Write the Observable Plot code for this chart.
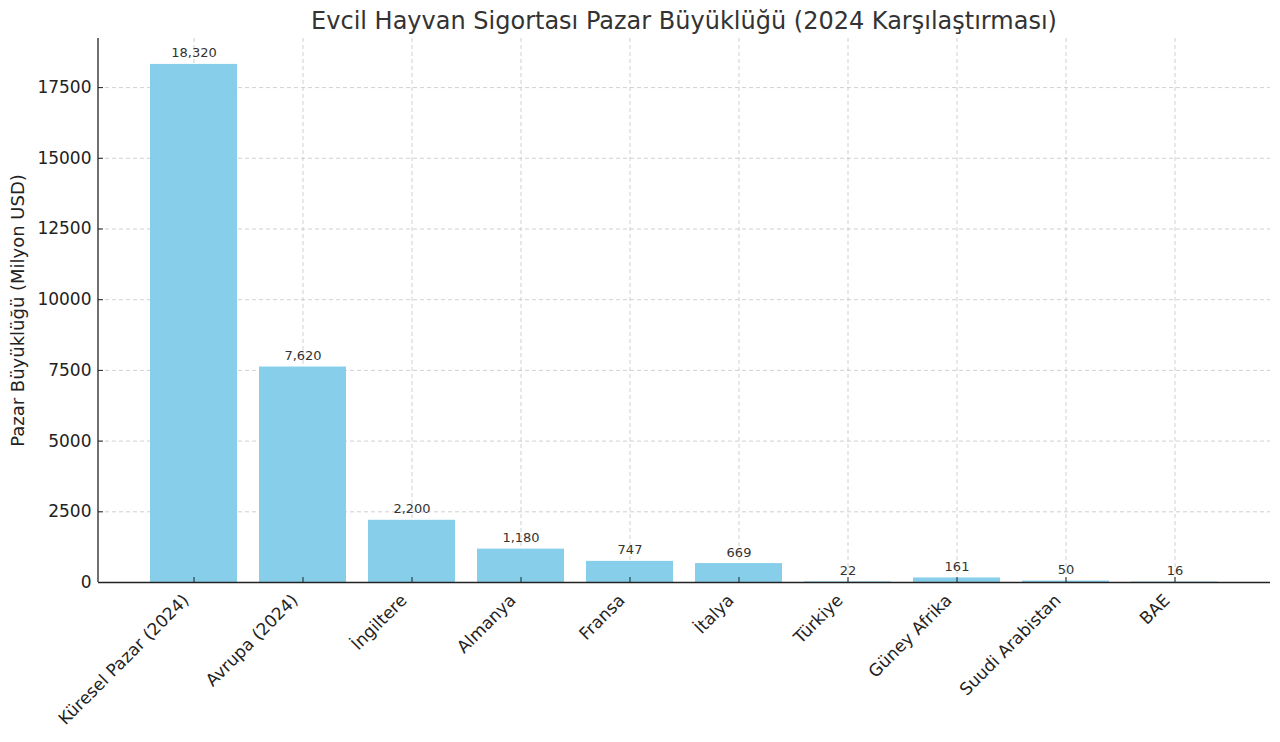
<!DOCTYPE html>
<html>
<head>
<meta charset="utf-8">
<script src="https://cdn.jsdelivr.net/npm/d3@7"></script>
<script src="https://cdn.jsdelivr.net/npm/@observablehq/plot@0.6"></script>
<style>
  html, body { margin: 0; padding: 0; background: #fff; }
  body { width: 1280px; height: 742px; overflow: hidden; font-family: "DejaVu Sans", sans-serif; }
  #title { position: absolute; left: 98px; width: 1172px; top: 0; height: 38px; line-height: 42px; text-align: center; font-size: 24px; color: #333; }
  #chart { position: absolute; left: 0; top: 38px; }
</style>
</head>
<body>
<div id="title">Evcil Hayvan Sigortası Pazar Büyüklüğü (2024 Karşılaştırması)</div>
<div id="chart"></div>
<script>
const categories = ["Küresel Pazar (2024)", "Avrupa (2024)", "İngiltere", "Almanya", "Fransa", "İtalya", "Türkiye", "Güney Afrika", "Suudi Arabistan", "BAE"];
const values = [18320, 7620, 2200, 1180, 747, 669, 22, 161, 50, 16];
const yTicks = [0, 2500, 5000, 7500, 10000, 12500, 15000, 17500];
const yLabel = "Pazar Büyüklüğü (Milyon USD)";

const data = categories.map((c, i) => ({category: c, value: values[i]}));
const yMax = d3.max(values) * 1.05;
const fmt = d3.format(",");

const W = 1280, H = 704;
const mL = 98, mR = 10, mT = 0, mB = 160;

const spineLeft = (index, scales, values, dims) => {
  const g = d3.create("svg:g");
  g.append("line")
    .attr("x1", dims.marginLeft).attr("x2", dims.marginLeft)
    .attr("y1", dims.marginTop).attr("y2", dims.height - dims.marginBottom)
    .attr("stroke", "#222").attr("stroke-width", 1.3);
  return g.node();
};

const chart = Plot.plot({
  width: W,
  height: H,
  marginLeft: mL,
  marginRight: mR,
  marginTop: mT,
  marginBottom: mB,
  style: {fontFamily: "DejaVu Sans, sans-serif", background: "#fff"},
  x: {domain: categories, padding: 0.2, paddingOuter: 0.476, label: null, axis: null},
  y: {domain: [0, yMax], label: null},
  marks: [
    Plot.gridX(categories, {stroke: "#c4c4c4", strokeOpacity: 1, strokeDasharray: "4,3", strokeWidth: 0.8}),
    Plot.gridY(yTicks, {stroke: "#c4c4c4", strokeOpacity: 1, strokeDasharray: "4,3", strokeWidth: 0.8}),
    Plot.barY(data, {x: "category", y: "value", fill: "#87CEEB"}),
    Plot.text(data, {x: "category", y: "value", text: d => fmt(d.value), lineAnchor: "bottom", dy: -7, fontSize: 13, fill: "#333"}),
    Plot.tickX(categories, {x: d => d, stroke: "#222", insetTop: H - mT - mB - 5}),
    Plot.tickY(yTicks, {y: d => d, stroke: "#222", insetRight: W - mL - mR - 5}),
    Plot.axisY(yTicks, {tickSize: 0, tickPadding: 7, fontSize: 17, fill: "#222", label: null, tickFormat: d3.format("d")}),
    Plot.text(categories, {x: d => d, frameAnchor: "bottom", text: d => d, rotate: -45, textAnchor: "end", lineAnchor: "middle", dx: -8, dy: 15, fontSize: 17, fill: "#222"}),
    Plot.text([yLabel], {frameAnchor: "left", text: d => d, rotate: -90, textAnchor: "middle", dx: -80, fontSize: 18, fill: "#222"}),
    Plot.ruleY([0], {stroke: "#222", strokeWidth: 1.3}),
    spineLeft
  ]
});
document.getElementById("chart").appendChild(chart);
</script>
</body>
</html>
